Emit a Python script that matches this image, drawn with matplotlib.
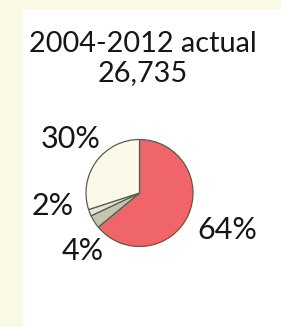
import matplotlib.pyplot as plt
import numpy as np

title = '2004-2012 actual'
total = '26,735'
shares = [64, 4, 2, 30]
labels = ['64%', '4%', '2%', '30%']
colors = ['#ef6569', '#c3c5b3', '#e4e5d6', '#fbfae9']

W, H = 281, 327
fig = plt.figure(figsize=(W / 100, H / 100), dpi=100)
fig.patch.set_facecolor('#f9f9e5')

ax = fig.add_axes([0, 0, 1, 1])
ax.set_xlim(0, W)
ax.set_ylim(0, H)
ax.set_aspect('equal')
ax.axis('off')

# white panel
ax.add_patch(plt.Rectangle((23, 0), W - 23, H - 10, color='white', zorder=0))

font = 'Lato'
ax.text(143, H - 44, title, ha='center', va='center', fontsize=20.8,
        family=font, color='#151515')
ax.text(143, H - 73, total, ha='center', va='center', fontsize=20.8,
        family=font, color='#151515')

cx, cy, r = 139.5, H - 193, 53.5
wedges, _ = ax.pie(shares, colors=colors, startangle=90, counterclock=False,
                   center=(cx, cy), radius=r, frame=True,
                   wedgeprops=dict(edgecolor='#5c5c4a', linewidth=0.9))
ax.set_xlim(0, W)
ax.set_ylim(0, H)
ax.axis('off')

# label placement (angle offset in degrees, distance in radii)
tweaks = [(2.3, 1.78), (13.4, 1.51), (-13.1, 1.65), (-2.3, 1.63)]
for w, lab, (da, dist) in zip(wedges, labels, tweaks):
    mid = np.deg2rad((w.theta1 + w.theta2) / 2 + da)
    ax.text(cx + dist * r * np.cos(mid), cy + dist * r * np.sin(mid), lab,
            ha='center', va='center', fontsize=22, family=font, color='#151515')

fig.savefig('out.png', dpi=100, facecolor=fig.get_facecolor())
